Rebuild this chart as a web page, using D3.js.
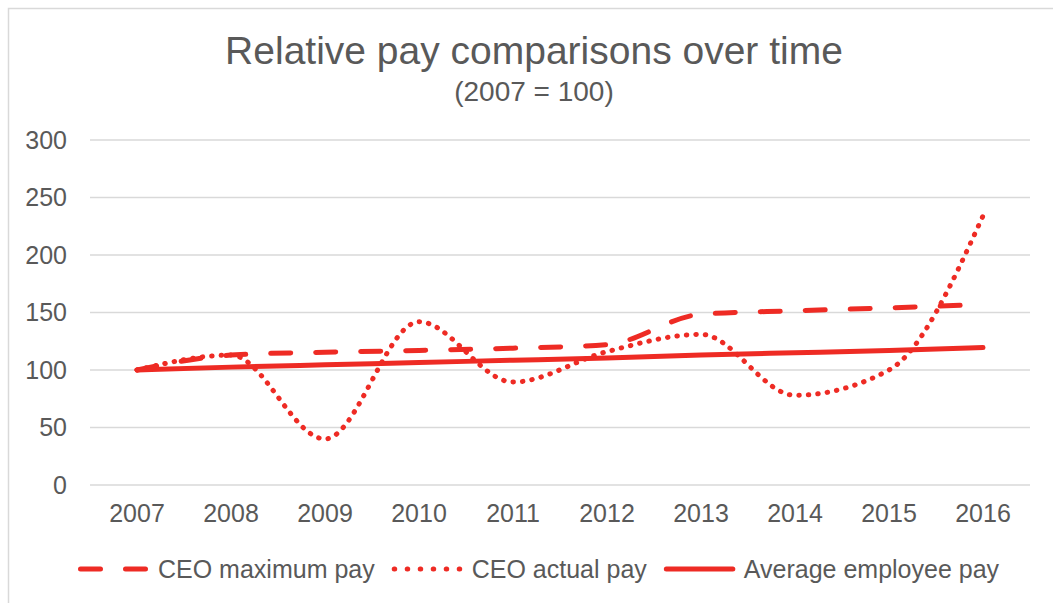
<!DOCTYPE html>
<meta charset="utf-8">
<style>
body { margin: 0; background: #fff; }
text { font-family: "Liberation Sans", Arial, sans-serif; fill: #595959; }
.grid line { stroke: #d9d9d9; stroke-width: 1.5px; }
</style>
<svg width="1053" height="603"></svg>
<script src="https://d3js.org/d3.v7.min.js"></script>
<script>

var years = ["2007", "2008", "2009", "2010", "2011", "2012", "2013", "2014", "2015", "2016"];
var ceoMaxPay = [100, 113, 115.5, 117, 119, 122, 148.5, 151.5, 154, 157];
var ceoActualPay = [100, 113, 40, 142, 89.5, 116, 131, 78, 100, 234];
var avgEmployeePay = [100, 102.5, 104.5, 106.5, 108.5, 110.5, 113, 115, 117, 119.5];
var yTicks = [0, 50, 100, 150, 200, 250, 300];

var seriesNames = ["CEO maximum pay", "CEO actual pay", "Average employee pay"];
var red = "#ee2b24";

var svg = d3.select("svg"),
    width = +svg.attr("width"),
    height = +svg.attr("height");

var series = [
  { name: seriesNames[0], values: ceoMaxPay, dash: "20,25" },
  { name: seriesNames[1], values: ceoActualPay, dash: "0.5,9" },
  { name: seriesNames[2], values: avgEmployeePay, dash: null }
];

// chart border
svg.append("rect")
    .attr("x", 8.5).attr("y", 8.5)
    .attr("width", 1060).attr("height", 620)
    .attr("fill", "none")
    .attr("stroke", "#d9d9d9")
    .attr("stroke-width", 1.5);

var x = d3.scaleBand().domain(years).range([90, 1030]);
var y = d3.scaleLinear().domain([0, 300]).range([485, 140]);

// gridlines
svg.append("g")
    .attr("class", "grid")
  .selectAll("line")
  .data(yTicks)
  .enter().append("line")
    .attr("x1", 90).attr("x2", 1030)
    .attr("y1", function(d) { return y(d); })
    .attr("y2", function(d) { return y(d); });

// y axis
var yAxis = svg.append("g")
    .attr("transform", "translate(67,0)")
    .call(d3.axisLeft(y).tickValues(yTicks).tickSize(0).tickPadding(0));
yAxis.select(".domain").remove();
yAxis.selectAll("text")
    .style("font-size", "25px")
    .attr("fill", "#595959");

// x axis
var xAxis = svg.append("g")
    .attr("transform", "translate(0,504)")
    .call(d3.axisBottom(x).tickSize(0).tickPadding(0));
xAxis.select(".domain").remove();
xAxis.selectAll("text")
    .style("font-size", "25px")
    .attr("fill", "#595959");

var line = d3.line()
    .x(function(d, i) { return x(years[i]) + x.bandwidth() / 2; })
    .y(function(d) { return y(d); })
    .curve(d3.curveMonotoneX);

svg.append("g")
  .selectAll("path")
  .data(series)
  .enter().append("path")
    .attr("d", function(d) { return line(d.values); })
    .attr("fill", "none")
    .attr("stroke", red)
    .attr("stroke-width", 5)
    .attr("stroke-linecap", "round")
    .attr("stroke-linejoin", "round")
    .attr("stroke-dasharray", function(d) { return d.dash; });

// title
svg.append("text")
    .attr("x", 534).attr("y", 64)
    .attr("text-anchor", "middle")
    .style("font-size", "39px")
    .text("Relative pay comparisons over time");

svg.append("text")
    .attr("x", 534).attr("y", 101)
    .attr("text-anchor", "middle")
    .style("font-size", "28px")
    .text("(2007 = 100)");

// legend
var legend = svg.append("g");
var lx = 78, ly = 569;
series.forEach(function(s, i) {
  legend.append("line")
      .attr("x1", lx + 2.5).attr("x2", lx + 69)
      .attr("y1", ly).attr("y2", ly)
      .attr("stroke", red)
      .attr("stroke-width", 5)
      .attr("stroke-linecap", "round")
      .attr("stroke-dasharray", i == 1 ? "0.5,12.5" : s.dash);
  var t = legend.append("text")
      .attr("x", lx + 80).attr("y", ly + 9)
      .style("font-size", "25px")
      .text(s.name);
  lx = lx + 80 + t.node().getComputedTextLength() + 17;
});

</script>
